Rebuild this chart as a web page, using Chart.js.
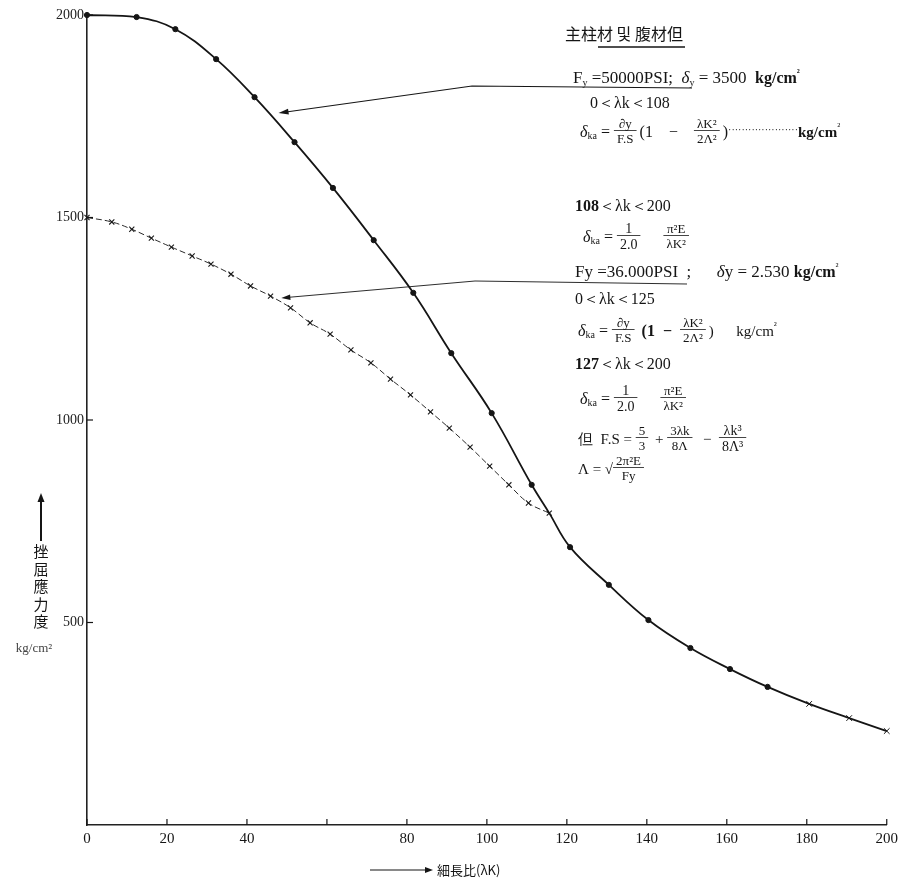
<!DOCTYPE html>
<html><head><meta charset="utf-8">
<script src="https://cdn.jsdelivr.net/npm/chart.js@4.4.1/dist/chart.umd.min.js"></script>
<style>html,body{margin:0;padding:0;background:#fff;}#wrap{width:903px;height:883px;position:relative;}</style>
</head><body><div id="wrap"><canvas id="c" width="903" height="883"></canvas></div>
<script>
// ---- data ----
// Curve A: Fy = 50000 PSI (σy = 3500 kg/cm²), dot markers
const lambdaA = [0, 12.4, 22.1, 32.3, 41.9, 51.9, 61.5, 71.7, 81.6, 91.1, 101.2, 111.2, 115.6, 120.8, 130.5, 140.4, 150.9, 160.8, 170.2, 180.6, 190.6, 200];
const stressA = [2000, 1995, 1965, 1891, 1797, 1686, 1573, 1444, 1314, 1165, 1017, 840, 770, 686, 593, 506, 437, 385, 341, 299, 264, 232];
const markerA = ['circle','circle','circle','circle','circle','circle','circle','circle','circle','circle','circle','circle','none','circle','circle','circle','circle','circle','circle','crossRot','crossRot','crossRot'];
// Curve B: Fy = 36000 PSI (σy = 2530 kg/cm²), cross markers
const lambdaB = [0, 6.2, 11.2, 16.1, 21.1, 26.3, 31.0, 36.0, 40.9, 45.9, 50.9, 55.8, 60.8, 66.0, 71.0, 75.9, 80.9, 85.9, 90.6, 95.8, 100.7, 105.5, 110.4, 115.6];
const stressB = [1500, 1489, 1471, 1449, 1427, 1405, 1385, 1360, 1331, 1306, 1277, 1240, 1212, 1173, 1141, 1101, 1062, 1020, 980, 933, 886, 840, 795, 770];
// axes
const xTicks = [0, 20, 40, 60, 80, 100, 120, 140, 160, 180, 200];
const xTickLabels = ['0', '20', '40', '', '80', '100', '120', '140', '160', '180', '200'];
const yTicks = [500, 1000, 1500, 2000];
const yTickLabels = ['500', '1000', '1500', '2000'];
const yTitle = '挫屈應力度';
const yUnit = 'kg/cm²';
const xTitle = '細長比(λK)';
const chartTitle = '主柱材 및 腹材但';
// leader arrow tips (data coordinates on each curve)
const tipA = {x: 47.9, y: 1758};
const tipB = {x: 48.6, y: 1301};

const SERIF = "'Liberation Serif','DejaVu Serif',serif";
const CJK = "'Noto Sans CJK KR','Noto Sans CJK JP',sans-serif";
const INK = '#151515';

function fnt(size, o) { o = o || {}; return (o.italic ? 'italic ' : '') + (o.bold ? 'bold ' : '') + size + 'px ' + (o.fam || SERIF); }
function run(ctx, x, y, parts) {
  for (const p of parts) {
    const t = p[0], size = p[1], o = p[2] || {};
    ctx.font = fnt(size, o);
    ctx.fillText(t, x, y + (o.dy || 0));
    x += ctx.measureText(t).width + (o.sp || 0);
  }
  return x;
}
function frac(ctx, x, yc, num, den, size) {
  ctx.font = fnt(size);
  const w = Math.max(ctx.measureText(num).width, ctx.measureText(den).width) + 6;
  ctx.textAlign = 'center';
  ctx.fillText(num, x + w / 2, yc - 3);
  ctx.fillText(den, x + w / 2, yc + size - 1);
  ctx.textAlign = 'left';
  ctx.beginPath(); ctx.lineWidth = 0.8; ctx.moveTo(x, yc - 0.5); ctx.lineTo(x + w, yc - 0.5); ctx.stroke();
  return x + w + 3;
}
function arrowHead(ctx, fx, fy, tx, ty, len, wid) {
  const a = Math.atan2(ty - fy, tx - fx);
  ctx.beginPath();
  ctx.moveTo(tx, ty);
  ctx.lineTo(tx - len * Math.cos(a) + wid * Math.sin(a), ty - len * Math.sin(a) - wid * Math.cos(a));
  ctx.lineTo(tx - len * Math.cos(a) - wid * Math.sin(a), ty - len * Math.sin(a) + wid * Math.cos(a));
  ctx.closePath(); ctx.fill();
}

const decor = {
  id: 'decor',
  afterDraw(chart) {
    const ctx = chart.ctx, xs = chart.scales.x, ys = chart.scales.y;
    const ca = chart.chartArea;
    ctx.save();
    ctx.strokeStyle = INK; ctx.fillStyle = INK; ctx.textBaseline = 'alphabetic';
    // inner tick marks
    ctx.lineWidth = 1.2;
    xTicks.forEach(v => { const px = xs.getPixelForValue(v); ctx.beginPath(); ctx.moveTo(px, ca.bottom); ctx.lineTo(px, ca.bottom - 6); ctx.stroke(); });
    yTicks.forEach(v => { const py = ys.getPixelForValue(v); ctx.beginPath(); ctx.moveTo(ca.left, py); ctx.lineTo(ca.left + 6, py); ctx.stroke(); });

    // y-axis title: arrow + vertical text + unit
    ctx.lineWidth = 2;
    ctx.beginPath(); ctx.moveTo(41, 541); ctx.lineTo(41, 500); ctx.stroke();
    arrowHead(ctx, 41, 541, 41, 493, 9, 3.5);
    ctx.font = fnt(15, {fam: CJK});
    ctx.textAlign = 'center';
    [...yTitle].forEach((ch, i) => ctx.fillText(ch, 41, 557 + i * 17.5));
    ctx.fillStyle = '#444';
    ctx.font = fnt(13);
    ctx.fillText(yUnit, 34, 652);
    ctx.fillStyle = INK;
    // x-axis title: arrow + text
    ctx.lineWidth = 1.2;
    ctx.beginPath(); ctx.moveTo(370, 870); ctx.lineTo(426, 870); ctx.stroke();
    arrowHead(ctx, 370, 870, 433, 870, 8, 3);
    ctx.textAlign = 'left';
    ctx.font = fnt(13, {fam: CJK});
    ctx.fillText(xTitle, 437, 875);

    // leader lines with arrows
    const ax = xs.getPixelForValue(tipA.x), ay = ys.getPixelForValue(tipA.y);
    const bx = xs.getPixelForValue(tipB.x), by = ys.getPixelForValue(tipB.y);
    ctx.lineWidth = 1.2;
    ctx.beginPath(); ctx.moveTo(ax + 4, ay - 0.5); ctx.lineTo(472, 86); ctx.lineTo(692, 88); ctx.stroke();
    arrowHead(ctx, 472, 86, ax, ay, 10, 3);
    ctx.lineWidth = 0.9;
    ctx.beginPath(); ctx.moveTo(bx + 4, by - 0.5); ctx.lineTo(475, 281); ctx.lineTo(687, 284); ctx.stroke();
    arrowHead(ctx, 475, 281, bx, by, 9, 2.8);

    // annotation text block
    ctx.textAlign = 'left';
    ctx.font = fnt(16, {fam: CJK});
    ctx.fillText(chartTitle, 565, 40);
    ctx.lineWidth = 1.5;
    ctx.beginPath(); ctx.moveTo(598, 47); ctx.lineTo(685, 47); ctx.stroke();

    let x;
    // Fy = 50000 PSI
    run(ctx, 573, 83, [['F', 17], ['y', 10, {dy: 3}], [' =50000PSI;  ', 17], ['δ', 17, {italic: true}], ['y', 10, {dy: 3}], [' = 3500  ', 17], ['kg/cm', 16, {bold: true}], ['²', 10, {dy: -7, bold: true}]]);
    run(ctx, 590, 108, [['0＜λk＜108', 16]]);
    // σka = σy/F.S (1 - λK²/2Λ²) ... kg/cm²
    x = run(ctx, 580, 137, [['δ', 16, {italic: true}], ['ka', 10, {dy: 2}], [' = ', 16]]);
    x = frac(ctx, x, 131, '∂y', 'F.S', 13);
    x = run(ctx, x, 137, [['(1    −    ', 16]]);
    x = frac(ctx, x, 131, 'λK²', '2Λ²', 13);
    run(ctx, x, 137, [[')', 16], ['·····················', 10, {dy: -4}], ['kg/cm', 15, {bold: true}], ['²', 10, {dy: -7}]]);

    run(ctx, 575, 211, [['108', 16, {bold: true}], ['＜λk＜200', 16]]);
    x = run(ctx, 583, 242, [['δ', 16, {italic: true}], ['ka', 10, {dy: 2}], [' = ', 16]]);
    x = frac(ctx, x, 236, '1', '2.0', 14);
    frac(ctx, x + 20, 236, 'π²E', 'λK²', 13);

    run(ctx, 575, 277, [['Fy =36.000PSI  ;      ', 17], ['δ', 17, {italic: true}], ['y', 17], [' = 2.530 ', 17], ['kg/cm', 16, {bold: true}], ['²', 10, {dy: -7}]]);
    run(ctx, 575, 304, [['0＜λk＜125', 16]]);
    x = run(ctx, 578, 336, [['δ', 16, {italic: true}], ['ka', 10, {dy: 2}], [' = ', 16]]);
    x = frac(ctx, x, 330, '∂y', 'F.S', 13);
    x = run(ctx, x, 336, [[' (1  −  ', 16, {bold: true}]]);
    x = frac(ctx, x, 330, 'λK²', '2Λ²', 13);
    run(ctx, x, 336, [[')      kg/cm', 15], ['²', 10, {dy: -7}]]);

    run(ctx, 575, 369, [['127', 16, {bold: true}], ['＜λk＜200', 16]]);
    x = run(ctx, 580, 404, [['δ', 16, {italic: true}], ['ka', 10, {dy: 2}], [' = ', 16]]);
    x = frac(ctx, x, 398, '1', '2.0', 14);
    frac(ctx, x + 20, 398, 'π²E', 'λK²', 13);

    x = run(ctx, 578, 444, [['但  F.S = ', 15]]);
    x = frac(ctx, x, 438, '5', '3', 13);
    x = run(ctx, x, 444, [[' + ', 15]]);
    x = frac(ctx, x, 438, '3λk', '8Λ', 13);
    x = run(ctx, x, 444, [['  −  ', 15]]);
    frac(ctx, x, 438, 'λk³', '8Λ³', 14);

    x = run(ctx, 578, 474, [['Λ = √', 15]]);
    frac(ctx, x, 468, '2π²E', 'Fy', 13);
    ctx.restore();
  }
};

const dataA = lambdaA.map((v, i) => ({x: v, y: stressA[i]}));
const dataB = lambdaB.map((v, i) => ({x: v, y: stressB[i]}));

new Chart(document.getElementById('c'), {
  type: 'scatter',
  data: {
    datasets: [
      {
        label: 'Fy=50000PSI', data: dataA, showLine: true, clip: false,
        borderColor: INK, borderWidth: 1.8, tension: 0.4,
        pointStyle: markerA.map(m => m === 'none' ? false : m),
        pointRadius: markerA.map(m => m === 'crossRot' ? 4 : (m === 'none' ? 0 : 2.6)),
        pointBackgroundColor: INK, pointBorderColor: INK, pointBorderWidth: 1
      },
      {
        label: 'Fy=36000PSI', data: dataB, showLine: true, clip: false,
        borderColor: '#2a2a2a', borderWidth: 1, borderDash: [6, 3], tension: 0.4,
        pointStyle: 'crossRot', pointRadius: 3.6, pointBorderColor: '#1a1a1a', pointBorderWidth: 1.1
      }
    ]
  },
  options: {
    responsive: false, animation: false, devicePixelRatio: 1,
    layout: {padding: {left: 0, top: 15, right: 10, bottom: 0}},
    plugins: {legend: {display: false}, tooltip: {enabled: false}},
    scales: {
      x: {
        type: 'linear', min: 0, max: 200,
        afterFit(s) { s.height = 58; },
        afterBuildTicks(s) { s.ticks = xTicks.map(v => ({value: v})); },
        ticks: {callback: v => xTickLabels[xTicks.indexOf(v)], font: {family: SERIF, size: 15}, color: INK, padding: 5, maxRotation: 0, autoSkip: false},
        grid: {display: true, drawOnChartArea: false, drawTicks: false},
        border: {display: true, color: '#222', width: 1.6}
      },
      y: {
        type: 'linear', min: 0, max: 2000,
        afterFit(s) { s.width = 87; },
        afterBuildTicks(s) { s.ticks = yTicks.map(v => ({value: v})); },
        ticks: {callback: v => yTickLabels[yTicks.indexOf(v)], font: {family: SERIF, size: 14}, color: '#222', padding: 3, autoSkip: false},
        grid: {display: true, drawOnChartArea: false, drawTicks: false},
        border: {display: true, color: '#222', width: 1.6}
      }
    }
  },
  plugins: [decor]
});
</script>
</body></html>
